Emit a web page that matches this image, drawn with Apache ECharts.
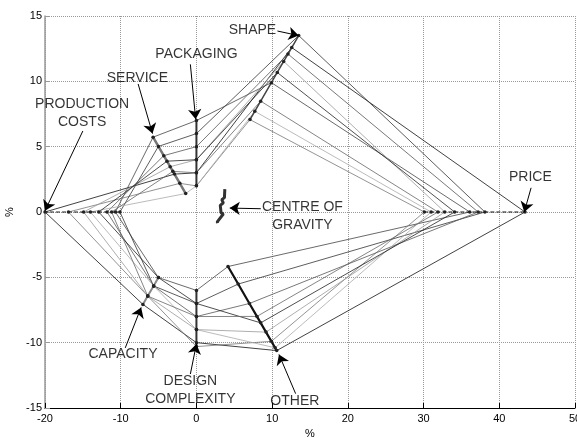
<!DOCTYPE html>
<html>
<head>
<meta charset="utf-8">
<script src="https://cdn.jsdelivr.net/npm/echarts@6/dist/echarts.min.js"></script>
<style>
  html, body { margin: 0; padding: 0; background: #fff; }
  #chart { width: 577px; height: 438px; }
</style>
</head>
<body>
<div id="chart"></div>
<script>
// direction of each attribute (degrees) and its values per iteration (%)
const attributes = ['PRODUCTION COSTS', 'SERVICE', 'PACKAGING', 'SHAPE', 'PRICE', 'OTHER', 'DESIGN COMPLEXITY', 'CAPACITY'];
const directions = [180, 135, 90, 45, 0, -45, -90, -135];
const productionCosts = [20, 10.7, 16.9, 10.1, 14.9, 11.8, 14.0, 12.9, 11.2];
const service = [4.1, 8.1, 3.1, 7.1, 4.9, 6.1, 2.0, 5.5, 4.4];
const packaging = [3, 7, 2, 6, 4, 5, 2, 4, 3];
const shape = [17.8, 14.0, 10.0, 19.1, 16.3, 17.1, 10.9, 15.1, 12.0];
const price = [43.4, 36.1, 30.1, 38.1, 32.8, 37.2, 31.0, 34.1, 31.9];
const other = [15.0, 5.9, 14.0, 7.8, 13.0, 9.9, 14.7, 12.0, 11.3];
const designComplexity = [10, 6, 10.3, 7, 9, 8, 9, 7, 8];
const capacity = [10.0, 7.1, 9.1, 8.0, 9.1, 8.0, 8.0, 7.1, 9.1];
const gravityX = [3.75, 3.7, 3.35, 3.55, 3.15, 3.25, 3.55, 2.75, 2.8];
const gravityY = [1.75, 1.1, 0.95, 0.7, 0.5, -0.05, -0.15, -0.75, -0.85];

const values = [productionCosts, service, packaging, shape, price, other, designComplexity, capacity];
const iterColors = ['#111', '#444', '#777', '#333', '#999', '#555', '#aaa', '#222', '#666'];
const trackStyles = [
  { color: '#222', width: 1, type: 'dashed' },
  { color: '#777', width: 2.5, type: 'solid' },
  { color: '#333', width: 2, type: 'solid' },
  { color: '#444', width: 1.5, type: 'solid' },
  { color: '#111', width: 1, type: 'dashed' },
  { color: '#111', width: 2.2, type: 'solid' },
  { color: '#333', width: 2, type: 'solid' },
  { color: '#888', width: 2, type: 'solid' },
];

const toXY = (v, deg) => {
  const r = (deg * Math.PI) / 180;
  return [v * Math.cos(r), v * Math.sin(r)];
};

const series = [];
productionCosts.forEach((_, i) => {
  const pts = values.map((arr, j) => toXY(arr[i], directions[j]));
  pts.push(pts[0]);
  series.push({
    type: 'line', data: pts, showSymbol: false, silent: true,
    lineStyle: { color: iterColors[i], width: 0.8 },
  });
});
values.forEach((arr, j) => {
  const pts = arr.slice().sort((a, b) => a - b).map((v) => toXY(v, directions[j]));
  series.push({
    type: 'line', name: attributes[j], data: pts, silent: true,
    symbol: 'circle', symbolSize: 3.5, itemStyle: { color: '#222' },
    lineStyle: trackStyles[j],
  });
});
series.push({
  type: 'line', data: gravityX.map((x, i) => [x, gravityY[i]]), showSymbol: false, silent: true,
  lineStyle: { color: '#333', width: 3 },
});

// annotation texts and arrows
const notes = [
  { text: 'SHAPE', at: [7.4, 13.9], from: [10.7, 13.85], to: [13.5, 13.5] },
  { text: 'PACKAGING', at: [0, 12.1], from: [-0.8, 11.3], to: [-0.1, 7.1] },
  { text: 'SERVICE', at: [-7.8, 10.25], from: [-7.7, 9.8], to: [-5.8, 6.0] },
  { text: 'PRODUCTION\nCOSTS', at: [-15.1, 7.6], from: [-15, 6.2], to: [-20, 0.1] },
  { text: 'CENTRE OF\nGRAVITY', at: [14.0, -0.3], from: [8.5, 0.25], to: [4.4, 0.3] },
  { text: 'PRICE', at: [44.1, 2.7], from: [44.2, 1.85], to: [43.3, 0] },
  { text: 'CAPACITY', at: [-9.7, -10.9], from: [-9.4, -10.4], to: [-7.3, -7.3] },
  { text: 'DESIGN\nCOMPLEXITY', at: [-0.8, -13.6], from: [-0.8, -12.4], to: [0, -10.1] },
  { text: 'OTHER', at: [13, -14.45], from: [13.1, -13.9], to: [10.9, -10.9] },
];
series.push({
  type: 'scatter', silent: true, symbolSize: 1, itemStyle: { color: 'rgba(0,0,0,0)' },
  data: notes.map((n) => ({ value: n.at, name: n.text })),
  label: {
    show: true, position: 'inside', formatter: '{b}', color: '#000',
    fontFamily: 'Liberation Sans, Arial, sans-serif', fontSize: 14, lineHeight: 18, align: 'center',
  },
  markLine: {
    silent: true, animation: false, symbol: ['none', 'arrow'], symbolSize: 10,
    label: { show: false },
    lineStyle: { color: '#000', width: 1, type: 'solid' },
    data: notes.map((n) => [{ coord: n.from }, { coord: n.to }]),
  },
});

const chart = echarts.init(document.getElementById('chart'));
const axisFont = { fontFamily: 'Liberation Sans, Arial, sans-serif', fontSize: 11, color: '#000' };
chart.setOption({
  animation: false,
  grid: { left: 45, right: 2, top: 16, bottom: 30, outerBoundsMode: 'none', containLabel: false },
  xAxis: {
    type: 'value', min: -20, max: 50, interval: 10,
    name: '%', nameLocation: 'middle', nameGap: 20, nameMoveOverlap: false, nameTextStyle: axisFont,
    axisLine: { onZero: false, lineStyle: { color: '#000', width: 1 } },
    axisTick: { inside: true, length: 5, lineStyle: { color: '#000' } },
    axisLabel: { ...axisFont, margin: 5 },
    splitLine: { show: true, lineStyle: { color: '#999', type: 'dotted', width: 1 } },
  },
  yAxis: {
    type: 'value', min: -15, max: 15, interval: 5,
    name: '%', nameLocation: 'middle', nameGap: 30, nameMoveOverlap: false, nameTextStyle: axisFont,
    axisLine: { show: true, onZero: false, lineStyle: { color: '#999', width: 1.5 } },
    axisTick: { show: true, inside: true, length: 5, lineStyle: { color: '#999' } },
    axisLabel: { ...axisFont, margin: 3 },
    splitLine: { show: true, lineStyle: { color: '#999', type: 'dotted', width: 1 } },
  },
  series,
});
</script>
</body>
</html>
